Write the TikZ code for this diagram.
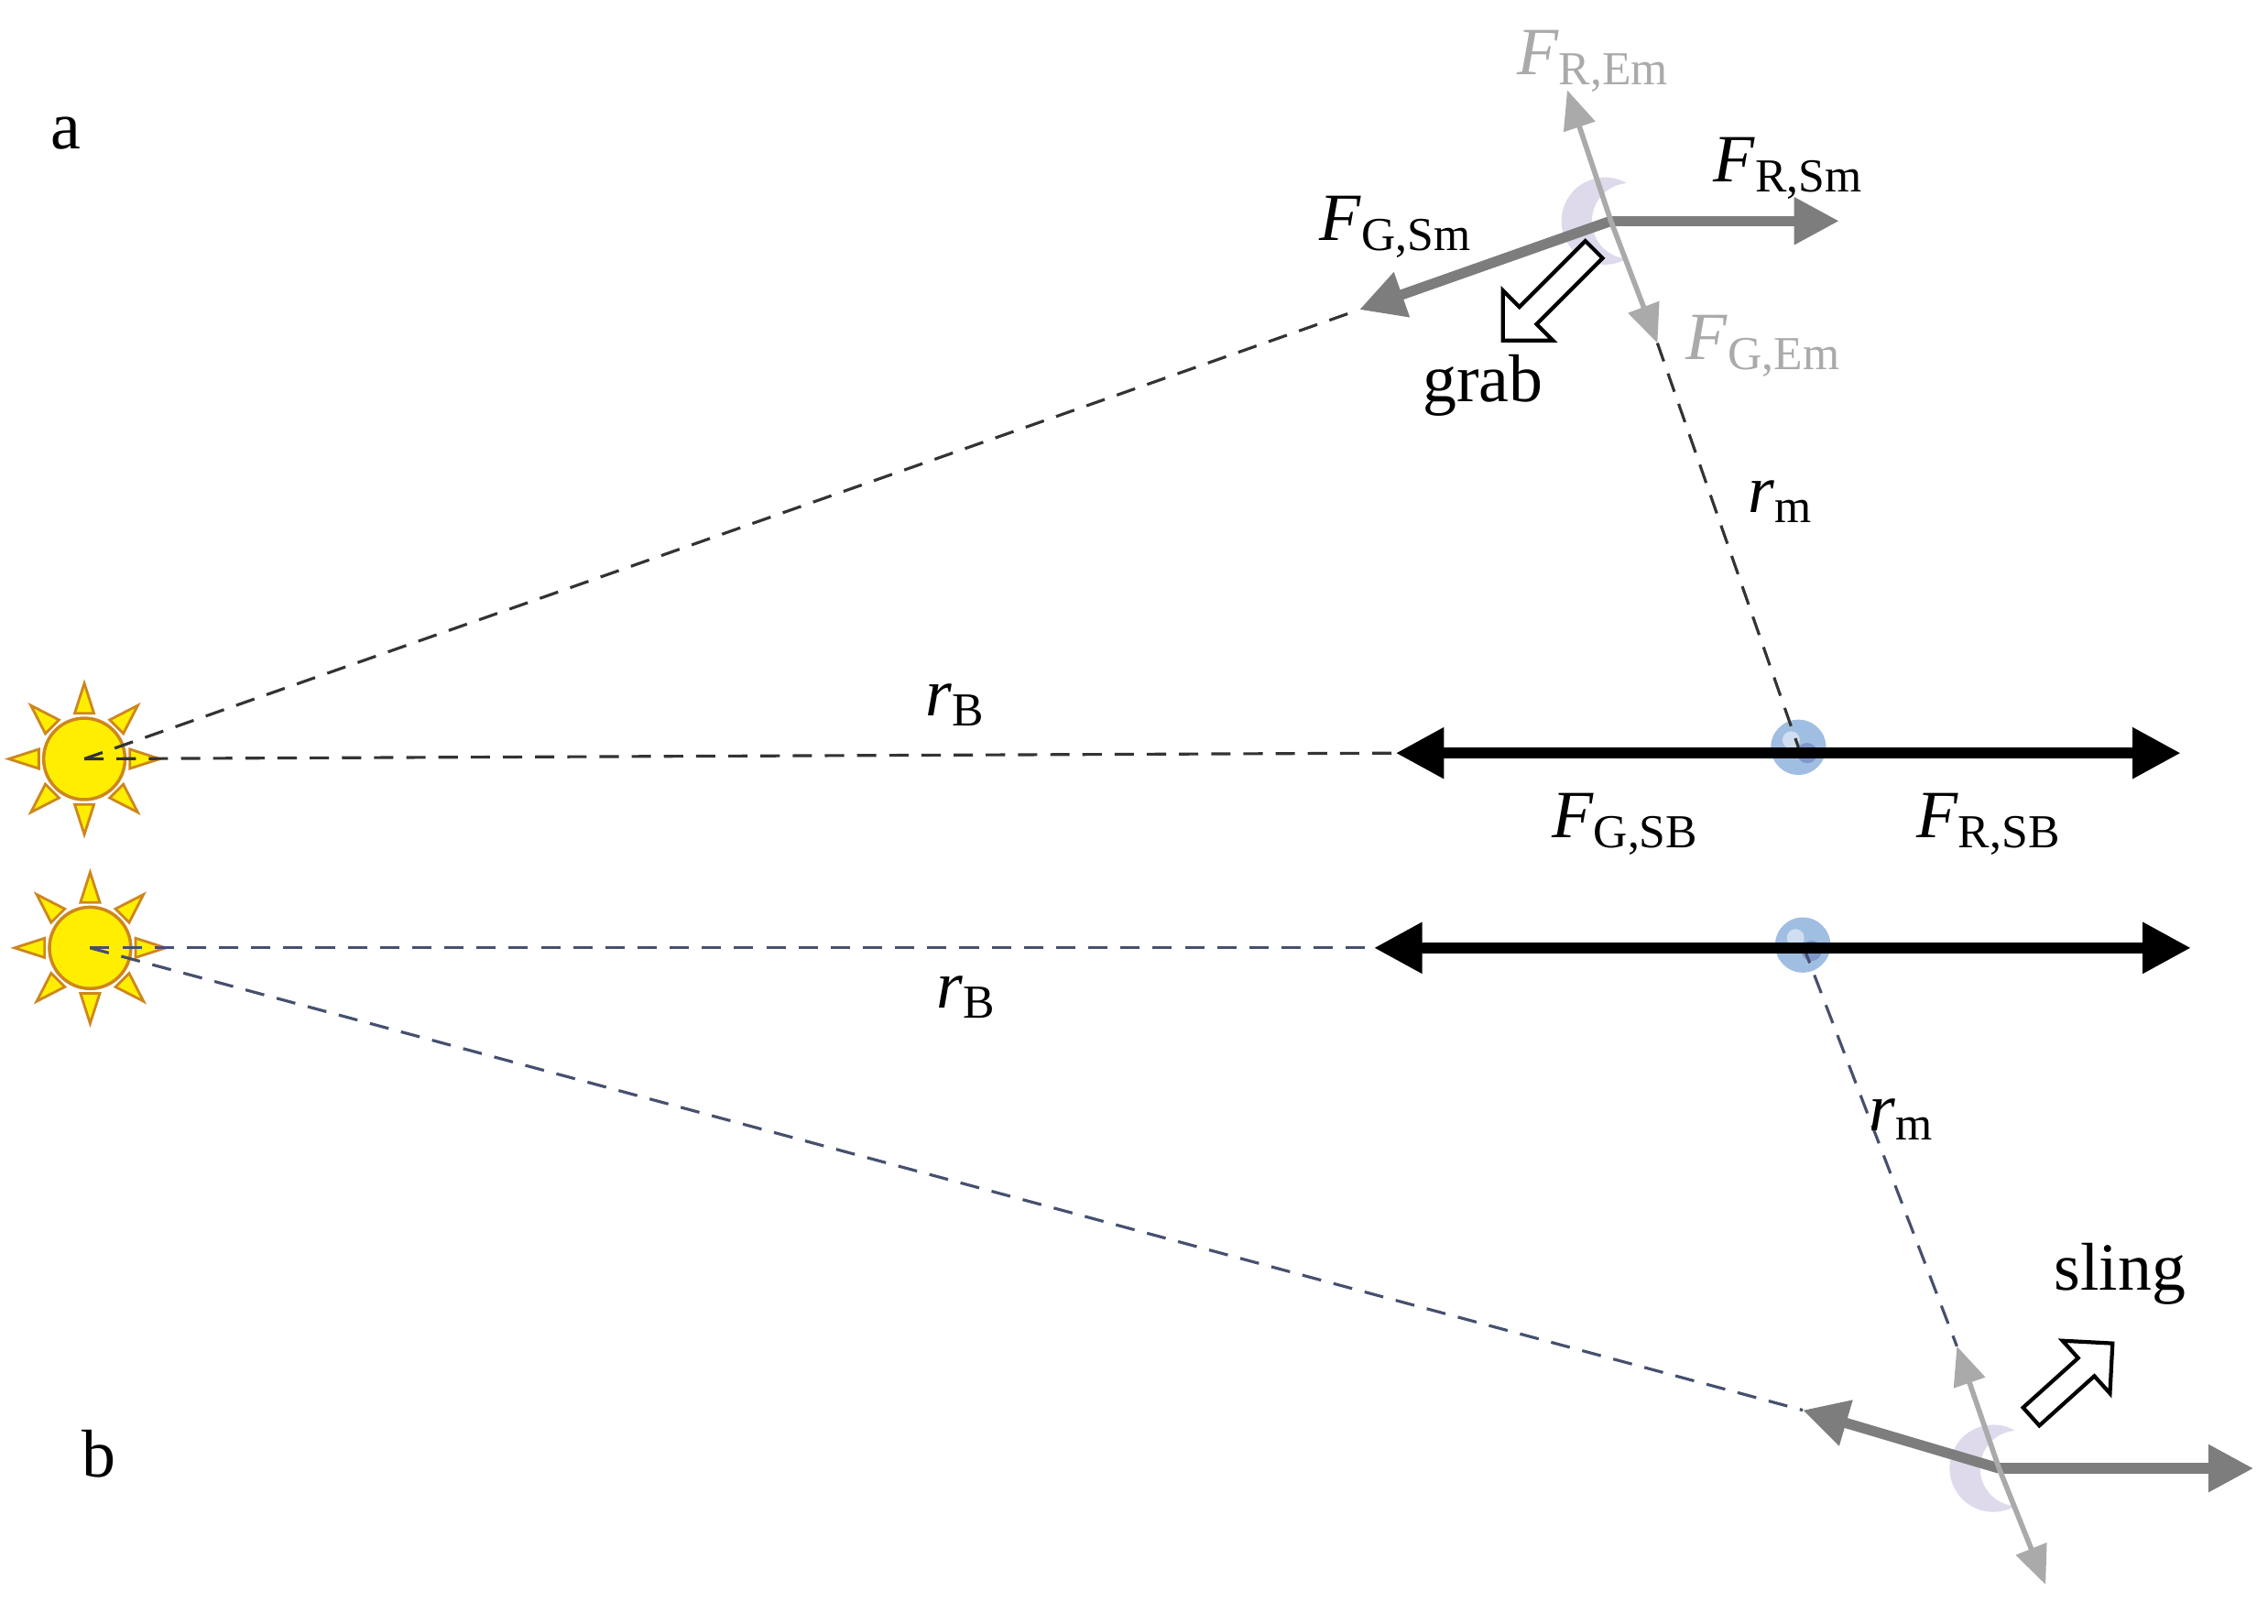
\documentclass[tikz,border=0pt]{standalone}
\usepackage{fontspec}
\setmainfont{Liberation Serif}
\usetikzlibrary{arrows.meta,shapes.arrows,calc}
\definecolor{sunfill}{RGB}{255,238,0}
\definecolor{sunedge}{RGB}{205,135,30}
\definecolor{moonc}{RGB}{222,218,236}
\definecolor{earthc}{RGB}{160,190,225}
\definecolor{dgray}{RGB}{125,125,125}
\definecolor{lgray}{RGB}{170,170,170}
\definecolor{dashblue}{RGB}{70,80,110}
\tikzset{
 lbl/.style={font=\fontsize{21}{24}\selectfont,inner sep=1pt},
 glbl/.style={lbl,text=lgray},
 dline/.style={dashed,dash pattern=on 6pt off 4pt,line width=0.9pt},
 thickg/.style={dgray,line width=3.2pt,-{Triangle[length=14pt,width=14pt]}},
 thing/.style={lgray,line width=1.6pt,-{Triangle[length=12pt,width=10pt]}},
 black2/.style={black,line width=3.6pt,{Triangle[length=15pt,width=15pt]}-{Triangle[length=15pt,width=15pt]}},
 hollow/.style={single arrow,draw=black,fill=white,line width=1.2pt,minimum width=22pt,single arrow head extend=5pt,inner sep=2pt},
}
\newcommand{\mysun}[1]{%
 \foreach \a in {0,45,...,315}{
  \fill[sunfill,draw=sunedge,line width=0.8pt] ($(#1)+(\a:52)$) -- ($(#1)+(\a+12:32)$) -- ($(#1)+(\a-12:32)$) -- cycle;}
 \fill[sunfill,draw=sunedge,line width=1pt] (#1) circle[radius=28];}
\newcommand{\mymoon}[1]{%
 \fill[moonc] ($(#1)+(-4,0)$) circle[radius=30];
 \fill[white] ($(#1)+(13,0)$) circle[radius=26];}
\newcommand{\myearth}[1]{%
 \fill[earthc] (#1) circle[radius=19];
 \fill[white,opacity=0.5] ($(#1)+(-5,-5)$) circle[radius=6];
 \fill[earthc!60!blue!70!black,opacity=0.35] ($(#1)+(6,4)$) circle[radius=7];}
\begin{document}
\begin{tikzpicture}[x=0.1587mm,y=-0.1587mm]
\useasboundingbox (0,0) rectangle (1560,1116.6);
\coordinate (S1) at (58,522);
\coordinate (S2) at (62,652);
\coordinate (M1) at (1108,152);
\coordinate (M2) at (1375,1010);
\coordinate (E1) at (1237,514);
\coordinate (E2) at (1240,650);
\mysun{S1}
\mysun{S2}
\mymoon{M1}
\mymoon{M2}
\myearth{E1}
\myearth{E2}
\coordinate (gsm) at (935,213);
\coordinate (rsm) at (1265,152);
\coordinate (rem) at (1078,62);
\coordinate (gem) at (1140,236);
\coordinate (gl1) at (960,518);
\coordinate (rr1) at (1500,518);
\coordinate (gl2) at (945,652);
\coordinate (rr2) at (1507,652);
\coordinate (b1) at (1240,970);
\coordinate (b2) at (1550,1010);
\coordinate (b3) at (1346,926);
\coordinate (b4) at (1407,1090);
\draw[dline,black!80] (S1) -- (gsm);
\draw[dline,black!80] (S1) -- (gl1);
\draw[dline,black!80] (gem) -- (E1);
\draw[dline,dashblue] (S2) -- (gl2);
\draw[dline,dashblue] (S2) -- (b1);
\draw[dline,dashblue] (E2) -- (b3);
\draw[black2] (gl1) -- (rr1);
\draw[black2] (gl2) -- (rr2);
\draw[thickg] (M1) -- (rsm);
\draw[thickg] (M1) -- (gsm);
\draw[thing] (M1) -- (rem);
\draw[thing] (M1) -- (gem);
\draw[thickg] (M2) -- (b2);
\draw[thickg] (M2) -- (b1);
\draw[thing] (M2) -- (b3);
\draw[thing] (M2) -- (b4);
\node[hollow,minimum height=40pt,rotate=-135] (grab) at (1068,200) {};
\node[hollow,minimum height=34pt,rotate=42] (slingA) at (1422,952) {};
\node[lbl] (la) at (45,92) {a};
\node[lbl] (lb) at (68,1000) {b};
\node[glbl] (lrem) at (1096,42) {\textit{F}\textsubscript{R,Em}};
\node[lbl] (lrsm) at (1230,116) {\textit{F}\textsubscript{R,Sm}};
\node[lbl] (lgsm) at (960,156) {\textit{F}\textsubscript{G,Sm}};
\node[glbl] (lgem) at (1213,238) {\textit{F}\textsubscript{G,Em}};
\node[lbl] (lgrab) at (1020,265) {grab};
\node[lbl] (lrm1) at (1225,345) {\textit{r}\textsubscript{m}};
\node[lbl] (lrb1) at (657,485) {\textit{r}\textsubscript{B}};
\node[lbl] (lgsb) at (1118,567) {\textit{F}\textsubscript{G,SB}};
\node[lbl] (lrsb) at (1368,567) {\textit{F}\textsubscript{R,SB}};
\node[lbl] (lrb2) at (665,686) {\textit{r}\textsubscript{B}};
\node[lbl] (lrm2) at (1308,770) {\textit{r}\textsubscript{m}};
\node[lbl] (lsling) at (1458,876) {sling};
\end{tikzpicture}
\end{document}
